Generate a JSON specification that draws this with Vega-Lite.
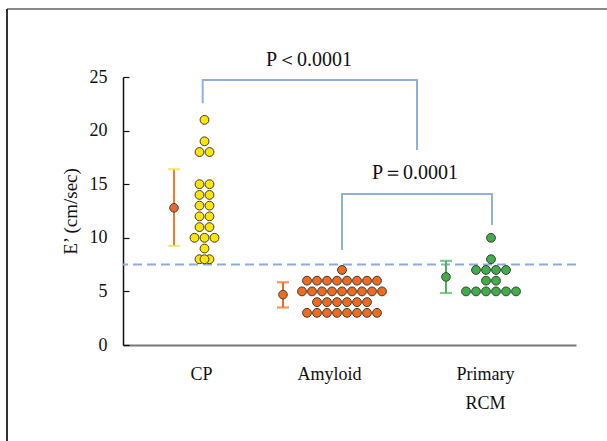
{
  "$schema": "https://vega.github.io/schema/vega-lite/v6.json",
  "width": 453,
  "height": 268,
  "autosize": {"type": "none"},
  "padding": {"left": 123, "top": 77, "right": 31, "bottom": 96},
  "background": "white",
  "config": {
    "view": {"stroke": null},
    "font": "Liberation Serif",
    "axis": {"grid": false, "labelFont": "Liberation Serif", "titleFont": "Liberation Serif", "labelColor": "#111", "titleColor": "#111", "labelFontSize": 18, "titleFontSize": 19, "titleFontWeight": "normal", "labelFontWeight": "normal"}
  },
  "datasets": {
    "dots": [
      {"group": "CP", "pos": 8.15, "value": 21},
      {"group": "CP", "pos": 8.15, "value": 19},
      {"group": "CP", "pos": 7.65, "value": 18},
      {"group": "CP", "pos": 8.65, "value": 18},
      {"group": "CP", "pos": 7.65, "value": 15},
      {"group": "CP", "pos": 8.65, "value": 15},
      {"group": "CP", "pos": 7.65, "value": 14},
      {"group": "CP", "pos": 8.65, "value": 14},
      {"group": "CP", "pos": 7.65, "value": 13},
      {"group": "CP", "pos": 8.65, "value": 13},
      {"group": "CP", "pos": 7.65, "value": 12},
      {"group": "CP", "pos": 8.65, "value": 12},
      {"group": "CP", "pos": 7.65, "value": 11},
      {"group": "CP", "pos": 8.65, "value": 11},
      {"group": "CP", "pos": 7.15, "value": 10},
      {"group": "CP", "pos": 8.15, "value": 10},
      {"group": "CP", "pos": 9.15, "value": 10},
      {"group": "CP", "pos": 8.15, "value": 9},
      {"group": "CP", "pos": 7.65, "value": 8},
      {"group": "CP", "pos": 8.65, "value": 8},
      {"group": "CP", "pos": 8.15, "value": 8},
      {"group": "Amyloid", "pos": 21.9, "value": 7},
      {"group": "Amyloid", "pos": 18.4, "value": 6},
      {"group": "Amyloid", "pos": 19.4, "value": 6},
      {"group": "Amyloid", "pos": 20.4, "value": 6},
      {"group": "Amyloid", "pos": 21.4, "value": 6},
      {"group": "Amyloid", "pos": 22.4, "value": 6},
      {"group": "Amyloid", "pos": 23.4, "value": 6},
      {"group": "Amyloid", "pos": 24.4, "value": 6},
      {"group": "Amyloid", "pos": 25.4, "value": 6},
      {"group": "Amyloid", "pos": 17.9, "value": 5},
      {"group": "Amyloid", "pos": 18.9, "value": 5},
      {"group": "Amyloid", "pos": 19.9, "value": 5},
      {"group": "Amyloid", "pos": 20.9, "value": 5},
      {"group": "Amyloid", "pos": 21.9, "value": 5},
      {"group": "Amyloid", "pos": 22.9, "value": 5},
      {"group": "Amyloid", "pos": 23.9, "value": 5},
      {"group": "Amyloid", "pos": 24.9, "value": 5},
      {"group": "Amyloid", "pos": 25.9, "value": 5},
      {"group": "Amyloid", "pos": 19.4, "value": 4},
      {"group": "Amyloid", "pos": 20.4, "value": 4},
      {"group": "Amyloid", "pos": 21.4, "value": 4},
      {"group": "Amyloid", "pos": 22.4, "value": 4},
      {"group": "Amyloid", "pos": 23.4, "value": 4},
      {"group": "Amyloid", "pos": 24.4, "value": 4},
      {"group": "Amyloid", "pos": 18.4, "value": 3},
      {"group": "Amyloid", "pos": 19.4, "value": 3},
      {"group": "Amyloid", "pos": 20.4, "value": 3},
      {"group": "Amyloid", "pos": 21.4, "value": 3},
      {"group": "Amyloid", "pos": 22.4, "value": 3},
      {"group": "Amyloid", "pos": 23.4, "value": 3},
      {"group": "Amyloid", "pos": 24.4, "value": 3},
      {"group": "Amyloid", "pos": 25.4, "value": 3},
      {"group": "Primary RCM", "pos": 36.8, "value": 10},
      {"group": "Primary RCM", "pos": 36.8, "value": 8},
      {"group": "Primary RCM", "pos": 35.3, "value": 7},
      {"group": "Primary RCM", "pos": 36.3, "value": 7},
      {"group": "Primary RCM", "pos": 37.3, "value": 7},
      {"group": "Primary RCM", "pos": 38.3, "value": 7},
      {"group": "Primary RCM", "pos": 36.3, "value": 6},
      {"group": "Primary RCM", "pos": 37.3, "value": 6},
      {"group": "Primary RCM", "pos": 34.3, "value": 5},
      {"group": "Primary RCM", "pos": 35.3, "value": 5},
      {"group": "Primary RCM", "pos": 36.3, "value": 5},
      {"group": "Primary RCM", "pos": 37.3, "value": 5},
      {"group": "Primary RCM", "pos": 38.3, "value": 5},
      {"group": "Primary RCM", "pos": 39.3, "value": 5}
    ],
    "bars": [
      {"group": "CP", "pos": 5.1, "mean": 12.8, "lo": 9.25, "hi": 16.4},
      {"group": "Amyloid", "pos": 16.0, "mean": 4.7, "lo": 3.5, "hi": 5.85},
      {"group": "Primary RCM", "pos": 32.3, "mean": 6.35, "lo": 4.85, "hi": 7.85}
    ],
    "brackets": [
      {"b": 1, "o": 1, "pos": 7.97, "value": 22.55},
      {"b": 1, "o": 2, "pos": 7.97, "value": 24.72},
      {"b": 1, "o": 3, "pos": 29.4, "value": 24.72},
      {"b": 1, "o": 4, "pos": 29.4, "value": 18.19},
      {"b": 2, "o": 1, "pos": 21.9, "value": 8.86},
      {"b": 2, "o": 2, "pos": 21.9, "value": 14.09},
      {"b": 2, "o": 3, "pos": 36.9, "value": 14.09},
      {"b": 2, "o": 4, "pos": 36.9, "value": 11.19}
    ],
    "notes": [
      {"label": "P＜0.0001", "pos": 18.6, "value": 26.6},
      {"label": "P＝0.0001", "pos": 29.2, "value": 16.0}
    ],
    "one": [{"k": 1}]
  },
  "resolve": {"scale": {"color": "independent"}},
  "layer": [
    {
      "data": {"name": "dots"},
      "mark": {"type": "point", "filled": true, "size": 78, "stroke": "#3a3a3a", "strokeWidth": 1, "opacity": 0},
      "encoding": {
        "x": {
          "field": "pos", "type": "quantitative",
          "scale": {"domain": [0, 45.3], "nice": false, "zero": false},
          "axis": {
            "title": null, "values": [7.8, 20.6, 36.2], "ticks": false,
            "labelExpr": "datum.value < 10 ? 'CP' : datum.value < 30 ? 'Amyloid' : ['Primary', 'RCM']",
            "labelFont": "Liberation Serif", "labelFontWeight": "normal", "labelFontSize": 18,
            "labelPadding": 20, "labelLineHeight": 29, "labelFlush": false, "labelOverlap": false,
            "domainColor": "#777", "domainWidth": 2
          }
        },
        "y": {
          "field": "value", "type": "quantitative",
          "scale": {"domain": [0, 25], "nice": false, "zero": true},
          "axis": {
            "title": "E’ (cm/sec)", "values": [0, 5, 10, 15, 20, 25],
            "labelFont": "Liberation Serif", "labelFontWeight": "normal",
            "tickSize": -6, "tickColor": "#111", "tickWidth": 1.2, "labelPadding": 22,
            "domainColor": "#111", "domainWidth": 1.5, "titlePadding": 9
          }
        }
      }
    },
    {
      "data": {"name": "one"},
      "mark": {"type": "rule", "strokeDash": [9, 5], "color": "#8eaadb", "strokeWidth": 2},
      "encoding": {"y": {"datum": 7.5, "type": "quantitative"}}
    },
    {
      "data": {"name": "brackets"},
      "mark": {"type": "line", "color": "#92b0de", "strokeWidth": 2},
      "encoding": {
        "x": {"field": "pos", "type": "quantitative"},
        "y": {"field": "value", "type": "quantitative"},
        "detail": {"field": "b"},
        "order": {"field": "o", "type": "quantitative"}
      }
    },
    {
      "data": {"name": "notes"},
      "mark": {"type": "text", "font": "Liberation Serif", "fontSize": 20, "color": "#111", "baseline": "middle", "align": "center"},
      "encoding": {
        "x": {"field": "pos", "type": "quantitative"},
        "y": {"field": "value", "type": "quantitative"},
        "text": {"field": "label"}
      }
    },
    {
      "data": {"name": "bars"},
      "mark": {"type": "rule", "strokeWidth": 2},
      "encoding": {
        "x": {"field": "pos", "type": "quantitative"},
        "y": {"field": "lo", "type": "quantitative"},
        "y2": {"field": "hi"},
        "color": {"field": "group", "type": "nominal", "legend": null, "scale": {"domain": ["CP", "Amyloid", "Primary RCM"], "range": ["#ee7b2f", "#f26b1d", "#4db556"]}}
      }
    },
    {
      "data": {"name": "bars"},
      "mark": {"type": "tick", "orient": "horizontal", "size": 12, "thickness": 2.2},
      "encoding": {
        "x": {"field": "pos", "type": "quantitative"},
        "y": {"field": "lo", "type": "quantitative"},
        "color": {"field": "group", "type": "nominal", "legend": null, "scale": {"domain": ["CP", "Amyloid", "Primary RCM"], "range": ["#f0e03a", "#f26b1d", "#4db556"]}}
      }
    },
    {
      "data": {"name": "bars"},
      "mark": {"type": "tick", "orient": "horizontal", "size": 12, "thickness": 2.2},
      "encoding": {
        "x": {"field": "pos", "type": "quantitative"},
        "y": {"field": "hi", "type": "quantitative"},
        "color": {"field": "group", "type": "nominal", "legend": null, "scale": {"domain": ["CP", "Amyloid", "Primary RCM"], "range": ["#f0e03a", "#f26b1d", "#4db556"]}}
      }
    },
    {
      "data": {"name": "bars"},
      "mark": {"type": "point", "filled": true, "size": 75, "stroke": "#444", "strokeWidth": 1, "opacity": 1},
      "encoding": {
        "x": {"field": "pos", "type": "quantitative"},
        "y": {"field": "mean", "type": "quantitative"},
        "color": {"field": "group", "type": "nominal", "legend": null, "scale": {"domain": ["CP", "Amyloid", "Primary RCM"], "range": ["#e8672a", "#f26b1d", "#3fae49"]}}
      }
    },
    {
      "data": {"name": "dots"},
      "mark": {"type": "point", "filled": true, "size": 78, "stroke": "#3a3a3a", "strokeWidth": 1, "opacity": 1},
      "encoding": {
        "x": {"field": "pos", "type": "quantitative"},
        "y": {"field": "value", "type": "quantitative"},
        "color": {"field": "group", "type": "nominal", "legend": null, "scale": {"domain": ["CP", "Amyloid", "Primary RCM"], "range": ["#ffe600", "#f26b1d", "#3fae49"]}}
      }
    },
    {
      "data": {"name": "one"},
      "mark": {"type": "rule", "color": "#8a8a8a", "strokeWidth": 2},
      "encoding": {
        "x": {"datum": -11.6, "type": "quantitative"},
        "x2": {"datum": 48.4},
        "y": {"datum": 31.34, "type": "quantitative"}
      }
    },
    {
      "data": {"name": "one"},
      "mark": {"type": "rule", "color": "#333", "strokeWidth": 2},
      "encoding": {
        "x": {"datum": -11.6, "type": "quantitative"},
        "y": {"datum": 31.34, "type": "quantitative"},
        "y2": {"datum": -9.5}
      }
    }
  ]
}
